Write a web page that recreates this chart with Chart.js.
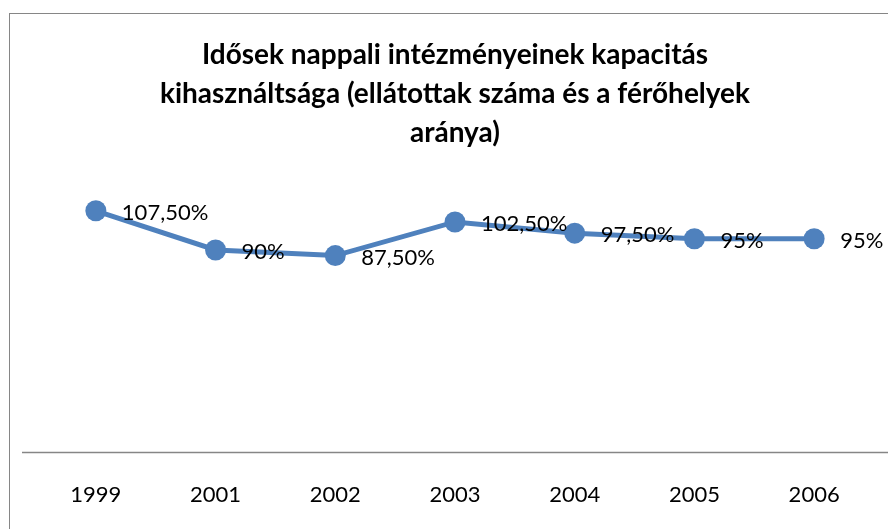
<!DOCTYPE html>
<html>
<head>
<meta charset="utf-8">
<script src="https://cdn.jsdelivr.net/npm/chart.js@4"></script>
<style>
  html, body { margin: 0; padding: 0; background: #fff; overflow: hidden; }
  #frame { position: absolute; left: 9px; top: 13px; width: 900px; height: 540px; border: 1px solid #868686; }
  #wrap { position: absolute; left: 0; top: 0; width: 888px; height: 529px; }
</style>
</head>
<body>
<div id="frame"></div>
<div id="wrap"><canvas id="chart"></canvas></div>
<script>
const years = ['1999', '2001', '2002', '2003', '2004', '2005', '2006'];
const ratios = [107.5, 90, 87.5, 102.5, 97.5, 95, 95];
const titleLines = [
  'Idősek nappali intézményeinek kapacitás',
  'kihasználtsága (ellátottak száma és a férőhelyek',
  'aránya)',
];

const FONT = 'Lato, "Open Sans", sans-serif';
const BLUE = '#4f81bd';

const formatRatio = (v) => (Number.isInteger(v) ? `${v}%` : `${v.toFixed(2).replace('.', ',')}%`);

const valueLabels = {
  id: 'valueLabels',
  afterDatasetsDraw(chart) {
    const meta = chart.getDatasetMeta(0);
    const data = chart.data.datasets[0].data;
    const ctx = chart.ctx;
    ctx.save();
    ctx.font = `22px ${FONT}`;
    ctx.fillStyle = '#000';
    ctx.textAlign = 'left';
    ctx.textBaseline = 'middle';
    meta.data.forEach((pt, i) => {
      ctx.fillText(formatRatio(data[i]), pt.x + 26, pt.y + 2);
    });
    ctx.restore();
  },
};

// baseline at zero, runs a bit past the plot on the left and to the canvas edge
const baseLine = {
  id: 'baseLine',
  beforeDatasetsDraw(chart) {
    const y = Math.round(chart.scales.y.getPixelForValue(0)) + 0.5;
    const ctx = chart.ctx;
    ctx.save();
    ctx.strokeStyle = '#868686';
    ctx.lineWidth = 1.5;
    ctx.beginPath();
    ctx.moveTo(chart.chartArea.left - 14, y);
    ctx.lineTo(chart.width, y);
    ctx.stroke();
    ctx.restore();
  },
};

new Chart(document.getElementById('chart'), {
  type: 'line',
  data: {
    labels: years,
    datasets: [{
      data: ratios,
      borderColor: BLUE,
      backgroundColor: BLUE,
      borderWidth: 5,
      pointRadius: 10.5,
      pointHoverRadius: 10.5,
      pointBackgroundColor: BLUE,
      pointBorderColor: BLUE,
      pointBorderWidth: 0,
      tension: 0,
      clip: false,
    }],
  },
  options: {
    responsive: true,
    maintainAspectRatio: false,
    animation: false,
    layout: { padding: { left: 36, right: 14, top: 0, bottom: -1 } },
    plugins: {
      legend: { display: false },
      tooltip: { enabled: false },
      title: {
        display: true,
        text: titleLines,
        color: '#000',
        font: { family: FONT, size: 28, weight: 'bold', lineHeight: 1.39 },
        padding: { top: 36, bottom: 30 },
      },
    },
    scales: {
      x: {
        offset: true,
        grid: { display: false },
        border: { display: false },
        ticks: { color: '#000', font: { family: FONT, size: 22 }, padding: 22 },
      },
      y: {
        display: false,
        min: 0,
        max: 120,
      },
    },
  },
  plugins: [baseLine, valueLabels],
});
</script>
</body>
</html>
